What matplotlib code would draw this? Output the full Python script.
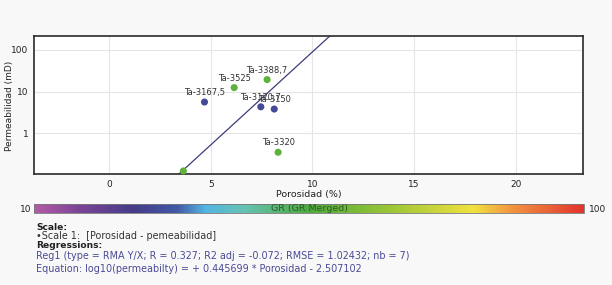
import numpy as np
import matplotlib
matplotlib.use("Agg")
import matplotlib.pyplot as plt
from matplotlib.colors import LinearSegmentedColormap, Normalize
from matplotlib.colorbar import ColorbarBase

# ---- data ----
labels = ["Ta-3167,5", "Ta-3525", "Ta-3388,7", "Ta-3120,7", "Ta-3150", "Ta-3320", ""]
porosidad = [4.69, 6.15, 7.77, 7.46, 8.12, 8.31, 3.65]
permeabilidad = [5.6, 12.4, 19.3, 4.3, 3.8, 0.35, 0.125]
gr = [30, 58, 58, 30, 30, 58, 58]
slope = 0.445699
intercept = -2.507102
x_ticks = [0, 5, 10, 15, 20]
y_ticks = [1, 10, 100]
y_ticklabels = ["1", "10", "100"]

cmap = LinearSegmentedColormap.from_list("gr", [
    (0.00, "#b45aa6"), (0.08, "#7a4596"), (0.18, "#463c88"), (0.26, "#4258a6"),
    (0.31, "#52b4e2"), (0.38, "#66c2b4"), (0.50, "#4faa3e"), (0.62, "#8cc036"),
    (0.80, "#f0e23e"), (0.87, "#f29440"), (1.00, "#e2332e")])
norm = Normalize(vmin=10, vmax=100)

plt.rcParams['font.family'] = ['DejaVu Sans']
fig = plt.figure(figsize=(6.12, 2.85), dpi=100, facecolor="#f8f8f8")

ax = fig.add_axes([0.0556, 0.3895, 0.897, 0.4842])
ax.set_facecolor("white")
ax.set_yscale("log")
ax.set_xlim(-3.69, 23.3)
ax.set_ylim(10**-0.976, 10**2.33)

ax.set_xticks(x_ticks)
ax.set_yticks(y_ticks)
ax.set_yticklabels(y_ticklabels)
ax.minorticks_off()
ax.tick_params(length=0, labelsize=6.5, colors="#222222", pad=4)
ax.grid(True, color="#e6e6e6", linewidth=0.8)
ax.set_axisbelow(True)
for s in ax.spines.values():
    s.set_color("#2a2a2a")
    s.set_linewidth(1.2)

xs = np.linspace(-5, 25, 200)
ax.plot(xs, 10 ** (slope * xs + intercept), color="#3c3c7c", linewidth=0.9, zorder=2)

ax.scatter(porosidad, permeabilidad, c=gr, cmap=cmap, norm=norm, s=26,
           edgecolors="none", zorder=3, clip_on=False)
for lab, x, y in zip(labels, porosidad, permeabilidad):
    if lab:
        ax.annotate(lab, (x, y), xytext=(0, 3.5), textcoords="offset points",
                    ha="center", va="bottom", fontsize=6, color="#333333", zorder=4)

ax.set_xlabel("Porosidad (%)", fontsize=6.8, color="#222222", labelpad=1)
fig.text(10 / 612, 1 - 106 / 285, "Permeabilidad (mD)", rotation=90, ha="center", va="center",
         fontsize=6.5, color="#222222")

# colorbar
cax = fig.add_axes([0.0556, 0.2526, 0.8987, 0.0316])
cb = ColorbarBase(cax, cmap=cmap, norm=norm, orientation="horizontal")
cb.set_ticks([])
cb.outline.set_edgecolor("#777777")
cb.outline.set_linewidth(0.6)
cax.text(0.5, 0.45, "GR (GR Merged)", transform=cax.transAxes, ha="center", va="center",
         fontsize=6.8, color="#2c5a2c")
fig.text(20 / 612, 1 - 209 / 285, "10", ha="left", va="center", fontsize=6.5, color="#222222")
fig.text(589 / 612, 1 - 209 / 285, "100", ha="left", va="center", fontsize=6.5, color="#222222")

# footer text
fig.text(36 / 612, 1 - 227 / 285, "Scale:", fontsize=6.6, fontweight="bold", color="#222222", va="center")
fig.text(36 / 612, 1 - 236 / 285, "\u2022Scale 1:  [Porosidad - pemeabilidad]", fontsize=6.9,
         color="#333333", va="center")
fig.text(36 / 612, 1 - 246 / 285, "Regressions:", fontsize=6.6, fontweight="bold", color="#222222", va="center")
fig.text(36 / 612, 1 - 256 / 285,
         "Reg1 (type = RMA Y/X; R = 0.327; R2 adj = -0.072; RMSE = 1.02432; nb = 7)",
         fontsize=6.9, color="#4a4a96", va="center")
fig.text(36 / 612, 1 - 269 / 285,
         "Equation: log10(permeabilty) = + 0.445699 * Porosidad - 2.507102",
         fontsize=6.9, color="#4a4a96", va="center")

fig.savefig("out.png", dpi=100, facecolor=fig.get_facecolor())
